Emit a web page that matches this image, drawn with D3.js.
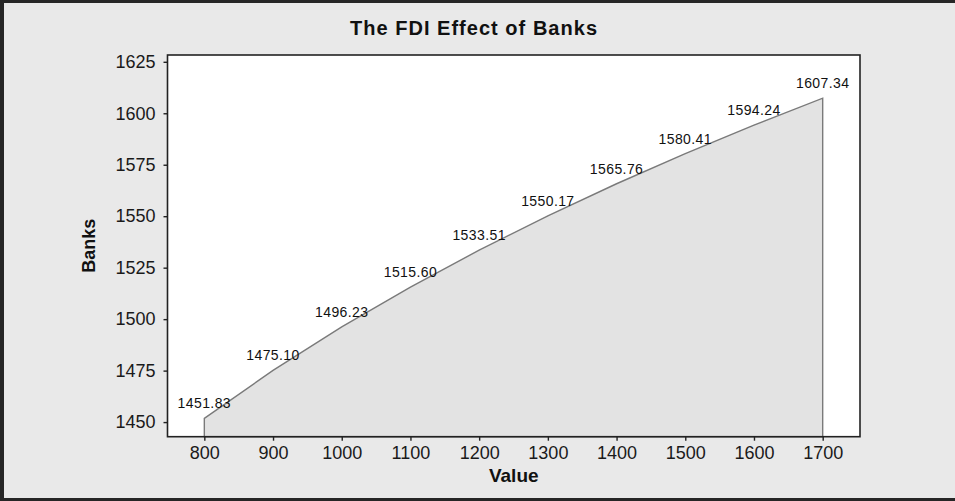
<!DOCTYPE html>
<html>
<head>
<meta charset="utf-8">
<script src="https://cdn.jsdelivr.net/npm/d3@7"></script>
<style>
  html, body { margin: 0; padding: 0; background: #e9e9e9; }
  svg { display: block; font-family: "Liberation Sans", Arial, sans-serif; }
</style>
</head>
<body>
<svg id="chart" width="955" height="501"></svg>
<script>
// Bank FDI effect by value
const values = [800, 900, 1000, 1100, 1200, 1300, 1400, 1500, 1600, 1700];
const banks = [1451.83, 1475.10, 1496.23, 1515.60, 1533.51, 1550.17, 1565.76, 1580.41, 1594.24, 1607.34];
const xTicks = [800, 900, 1000, 1100, 1200, 1300, 1400, 1500, 1600, 1700];
const yTicks = [1450, 1475, 1500, 1525, 1550, 1575, 1600, 1625];

const W = 955, H = 501;
const plot = { left: 167.5, top: 55, right: 860, bottom: 436.7 };

const svg = d3.select("#chart");

// background and frame
svg.append("rect").attr("x", 0).attr("y", 0).attr("width", W).attr("height", H).attr("fill", "#e9e9e9");
svg.append("rect").attr("x", 0).attr("y", 0).attr("width", W).attr("height", 3).attr("fill", "#262626");
svg.append("rect").attr("x", 0).attr("y", 0).attr("width", 4).attr("height", H).attr("fill", "#262626");
svg.append("rect").attr("x", 0).attr("y", H - 3).attr("width", W).attr("height", 3).attr("fill", "#262626");

const x = d3.scaleLinear().domain([746.4, 1754.3]).range([plot.left, plot.right]);
const y = d3.scaleLinear().domain([1442.9, 1628.3]).range([plot.bottom, plot.top]);

// plot area
svg.append("rect")
  .attr("x", plot.left).attr("y", plot.top)
  .attr("width", plot.right - plot.left).attr("height", plot.bottom - plot.top)
  .attr("fill", "#ffffff");

const data = values.map((v, i) => ({ v, b: banks[i] }));

const area = d3.area()
  .x(d => x(d.v))
  .y0(y.range()[0])
  .y1(d => y(d.b));

svg.append("path")
  .datum(data)
  .attr("d", area)
  .attr("fill", "#e3e3e3")
  .attr("stroke", "#7a7a7a")
  .attr("stroke-width", 1.4);

// value labels
svg.append("g")
  .selectAll("text")
  .data(data)
  .join("text")
  .attr("x", d => x(d.v))
  .attr("y", d => y(d.b) - 10)
  .attr("text-anchor", "middle")
  .attr("font-size", 14)
  .attr("letter-spacing", 0.4)
  .attr("fill", "#111")
  .text(d => d.b.toFixed(2));

// frame of plot
svg.append("rect")
  .attr("x", plot.left).attr("y", plot.top)
  .attr("width", plot.right - plot.left).attr("height", plot.bottom - plot.top)
  .attr("fill", "none")
  .attr("stroke", "#222")
  .attr("stroke-width", 1.6);

// axes
const xAxis = svg.append("g")
  .attr("transform", `translate(0,${plot.bottom})`)
  .call(d3.axisBottom(x).tickValues(xTicks).tickFormat(d3.format("d"))
    .tickSize(4).tickPadding(5.5).tickSizeOuter(0));
const yAxis = svg.append("g")
  .attr("transform", `translate(${plot.left},0)`)
  .call(d3.axisLeft(y).tickValues(yTicks).tickFormat(d3.format("d"))
    .tickSize(4).tickPadding(8).tickSizeOuter(0));

[xAxis, yAxis].forEach(g => {
  g.select(".domain").remove();
  g.selectAll(".tick line").attr("stroke", "#222").attr("stroke-width", 1.4);
  g.selectAll(".tick text")
    .attr("font-size", 18)
    .attr("font-family", "Liberation Sans, Arial, sans-serif")
    .attr("fill", "#1a1a1a");
});

// title and axis titles
svg.append("text")
  .attr("x", 473.5).attr("y", 35)
  .attr("text-anchor", "middle")
  .attr("font-size", 20).attr("font-weight", "bold")
  .attr("fill", "#111")
  .attr("textLength", 247).attr("lengthAdjust", "spacing")
  .text("The FDI Effect of Banks");

svg.append("text")
  .attr("x", (plot.left + plot.right) / 2).attr("y", 482)
  .attr("text-anchor", "middle")
  .attr("font-size", 19).attr("font-weight", "bold")
  .attr("fill", "#111")
  .text("Value");

svg.append("text")
  .attr("transform", `translate(95,${(plot.top + plot.bottom) / 2}) rotate(-90)`)
  .attr("text-anchor", "middle")
  .attr("font-size", 18).attr("font-weight", "bold")
  .attr("fill", "#111")
  .text("Banks");
</script>
</body>
</html>
